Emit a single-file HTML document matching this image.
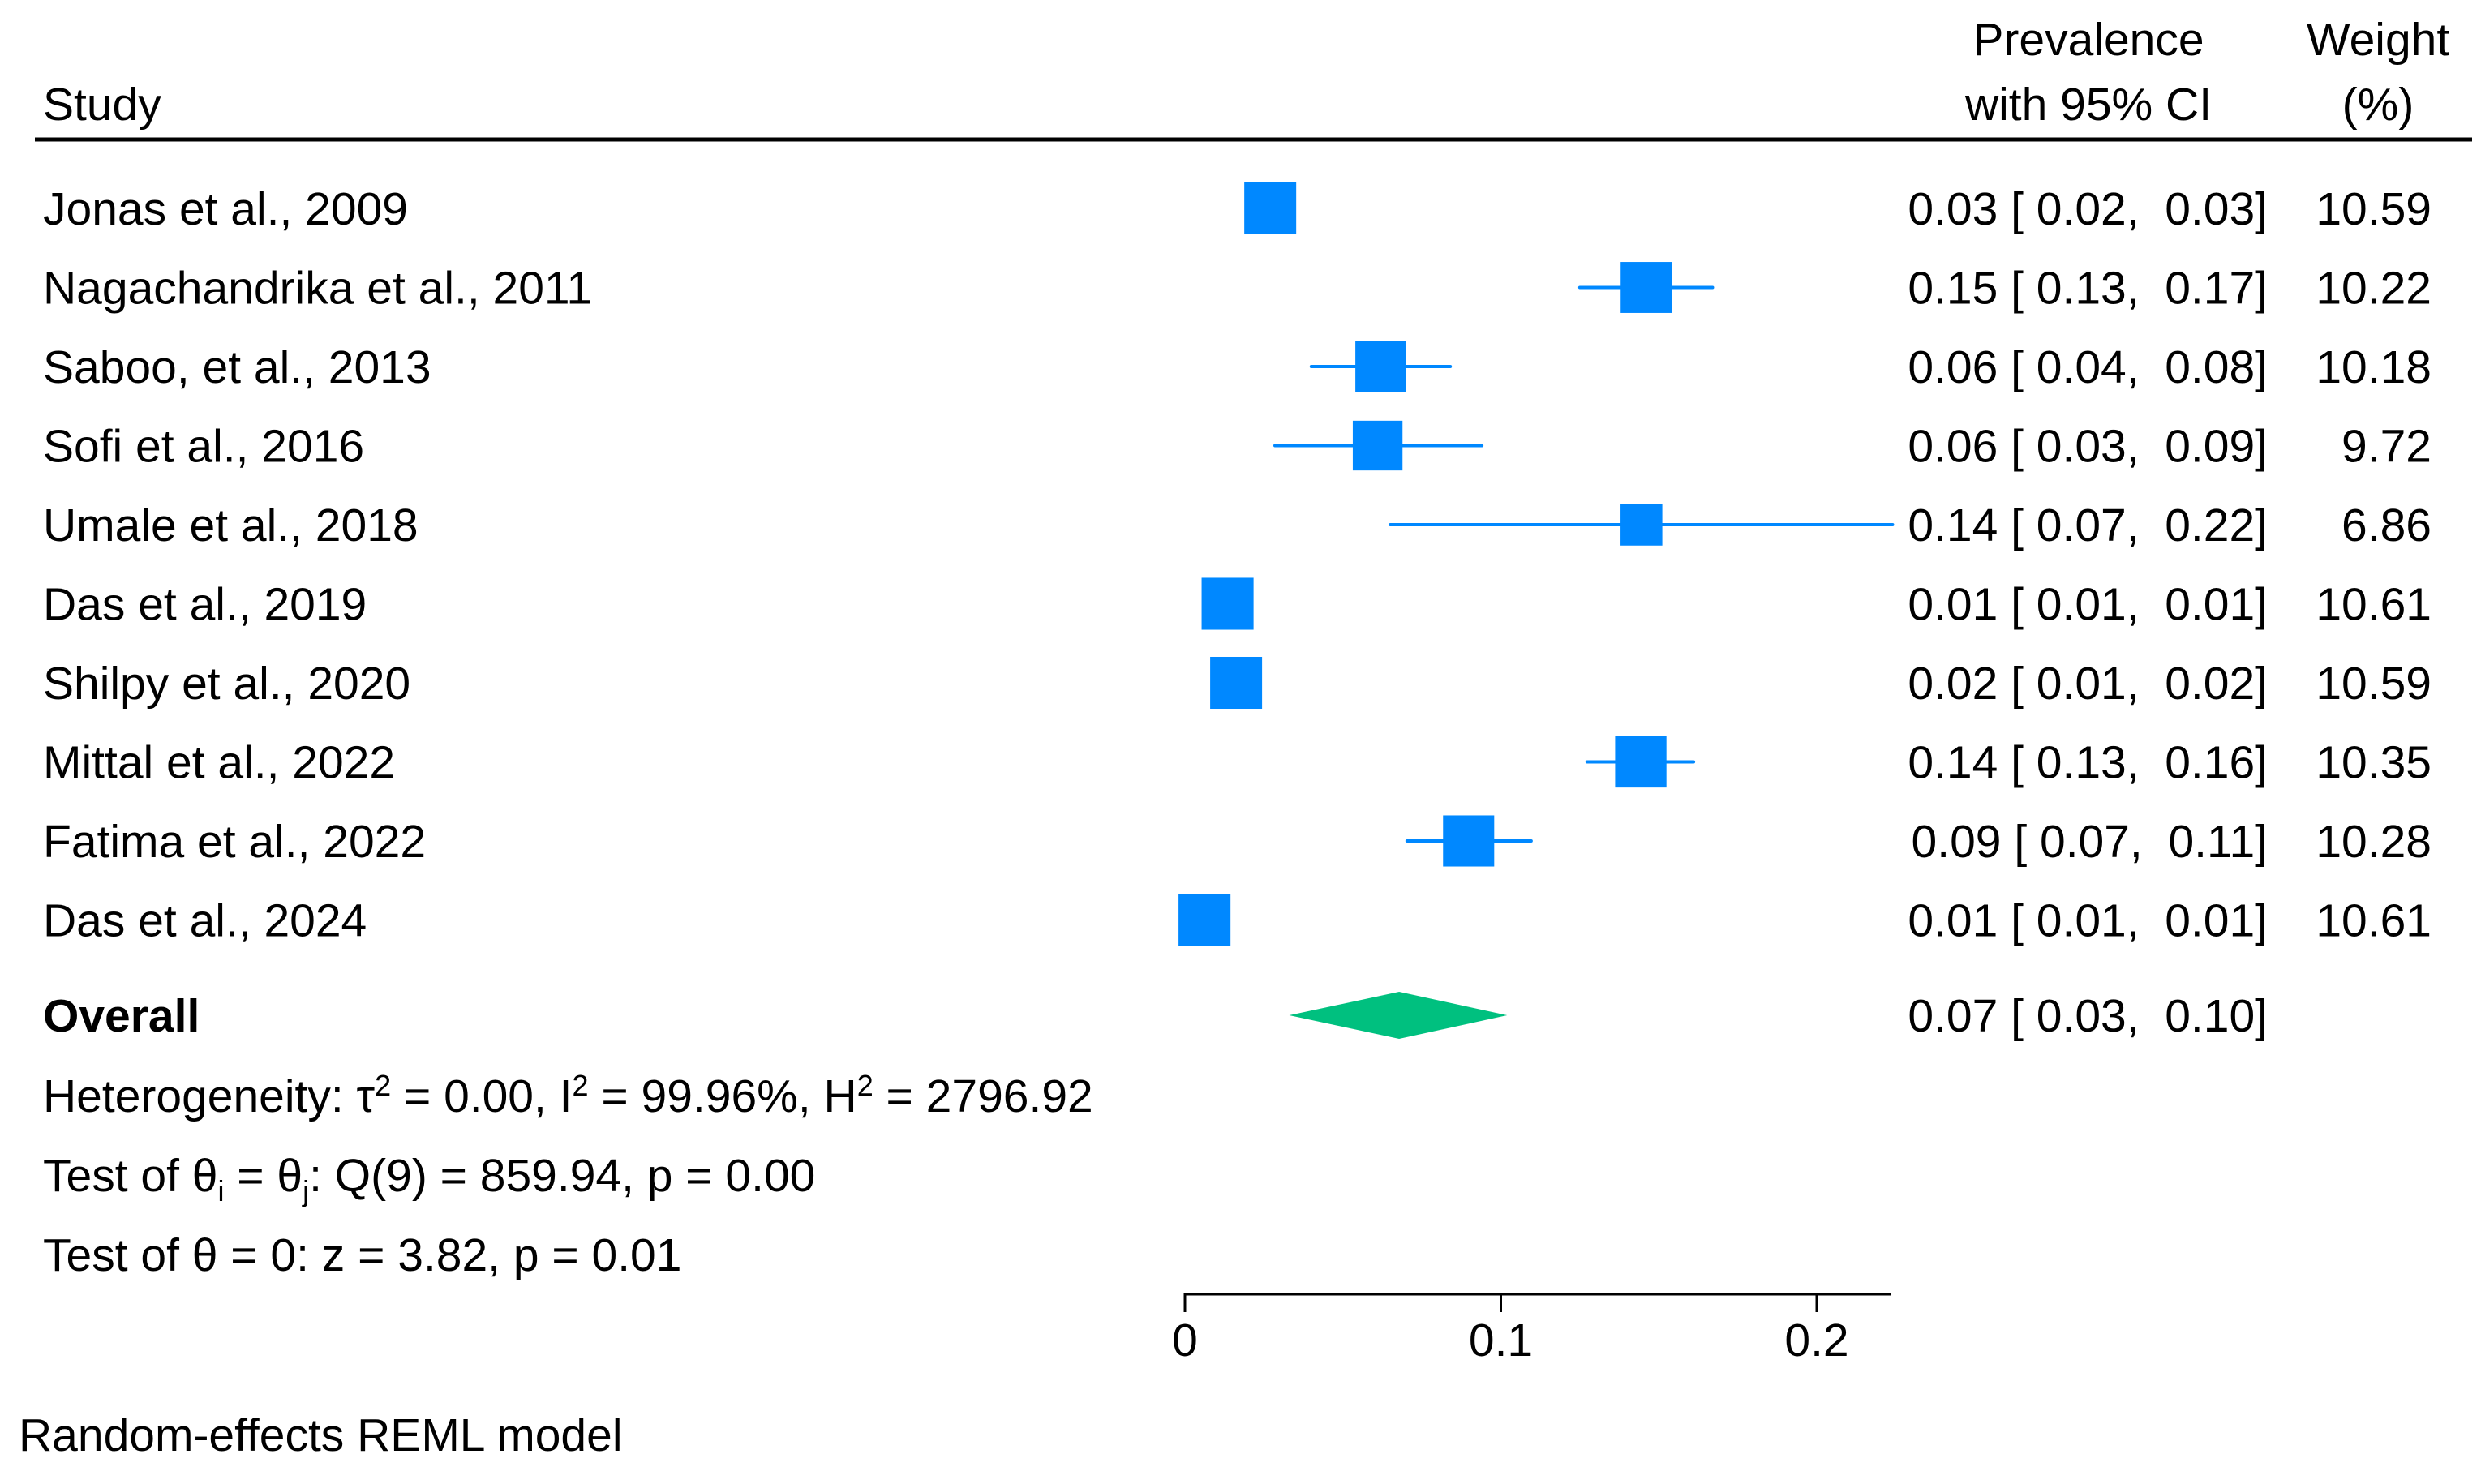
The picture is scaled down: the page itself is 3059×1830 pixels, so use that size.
<!DOCTYPE html>
<html><head><meta charset="utf-8"><style>
html,body{margin:0;padding:0;background:#fff;}
svg{display:block;font-family:"Liberation Sans",Arial,sans-serif;}
text{fill:#000;}
</style></head><body>
<svg id="chart" width="3059" height="1830" viewBox="0 0 3059 1830" xmlns="http://www.w3.org/2000/svg">
<g font-size="57">
<text x="53" y="148">Study</text>
<text x="2575" y="68" text-anchor="middle">Prevalence</text>
<text x="2575" y="148" text-anchor="middle">with 95% CI</text>
<text x="2932" y="68" text-anchor="middle">Weight</text>
<text x="2932" y="148" text-anchor="middle">(%)</text>
</g>
<line x1="43" y1="172" x2="3048" y2="172" stroke="#000" stroke-width="5"/>
<g id="rows" font-size="57"></g>
<g id="marks"></g>
<g font-size="57">
<text x="53" y="1272" font-weight="bold">Overall</text>
<text x="53" y="1371">Heterogeneity: τ<tspan font-size="36" dy="-20">2</tspan><tspan dy="20"> = 0.00, I</tspan><tspan font-size="36" dy="-20">2</tspan><tspan dy="20"> = 99.96%, H</tspan><tspan font-size="36" dy="-20">2</tspan><tspan dy="20"> = 2796.92</tspan></text>
<text x="53" y="1469">Test of θ<tspan font-size="36" dy="12">i</tspan><tspan dy="-12"> = θ</tspan><tspan font-size="36" dy="12">j</tspan><tspan dy="-12">: Q(9) = 859.94, p = 0.00</tspan></text>
<text x="53" y="1567">Test of θ = 0: z = 3.82, p = 0.01</text>
<text x="23" y="1789">Random-effects REML model</text>
</g>
<g id="axis"></g>
</svg>
<script>
const studies = ["Jonas et al., 2009","Nagachandrika et al., 2011","Saboo, et al., 2013","Sofi et al., 2016","Umale et al., 2018","Das et al., 2019","Shilpy et al., 2020","Mittal et al., 2022","Fatima et al., 2022","Das et al., 2024"];
const est = [0.027,0.146,0.062,0.061,0.1445,0.0135,0.0162,0.1443,0.0898,0.0062];
const lo = [0.020,0.125,0.040,0.0285,0.065,0.010,0.012,0.1273,0.0703,0.005];
const hi = [0.030,0.167,0.084,0.094,0.224,0.016,0.020,0.161,0.1096,0.008];
const ciText = ["0.03 [ 0.02,  0.03]","0.15 [ 0.13,  0.17]","0.06 [ 0.04,  0.08]","0.06 [ 0.03,  0.09]","0.14 [ 0.07,  0.22]","0.01 [ 0.01,  0.01]","0.02 [ 0.01,  0.02]","0.14 [ 0.13,  0.16]","0.09 [ 0.07,  0.11]","0.01 [ 0.01,  0.01]"];
const weights = [10.59,10.22,10.18,9.72,6.86,10.61,10.59,10.35,10.28,10.61];
const overall = [0.033,0.0678,0.102];
const overallText = "0.07 [ 0.03,  0.10]";
const ticks = [0,0.1,0.2];
const tickLabels = ["0","0.1","0.2"];

const NS="http://www.w3.org/2000/svg";
const X = v => 1461 + v*3895;
const Y = i => 257 + i*97.5;
const rows=document.getElementById('rows'), marks=document.getElementById('marks'), axis=document.getElementById('axis');
function mk(tag, attrs, parent, txt){const e=document.createElementNS(NS,tag);for(const k in attrs)e.setAttribute(k,attrs[k]);if(txt!==undefined)e.textContent=txt;parent.appendChild(e);return e;}
studies.forEach((s,i)=>{
  const y=Y(i);
  let t=mk('text',{x:53,y:y+20},rows,s);
  
  
  t=mk('text',{x:2796,y:y+20,'text-anchor':'end','xml:space':'preserve'},rows,ciText[i]);
  t.style.whiteSpace='pre';
  
  
  t=mk('text',{x:2998,y:y+20,'text-anchor':'end'},rows,weights[i].toFixed(2));
  
  
  const l=mk('line',{x1:X(lo[i]),x2:X(hi[i]),y1:y,y2:y,stroke:'#0088ff','stroke-width':4,'stroke-linecap':'round'},marks);
  
  
  const sz=19.67*Math.sqrt(weights[i]);
  const r=mk('rect',{x:X(est[i])-sz/2,y:y-sz/2,width:sz,height:sz,fill:'#0088ff'},marks);
  
  
});
const oy=1252;
const d=mk('polygon',{points:`${X(overall[0])},${oy} ${X(overall[1])},${oy-29} ${X(overall[2])},${oy} ${X(overall[1])},${oy+29}`,fill:'#00c07f'},marks);


const ot=mk('text',{x:2796,y:oy+20,'text-anchor':'end','font-size':57},rows,overallText);
ot.style.whiteSpace='pre';


const al=mk('line',{x1:X(0)-1.5,x2:2332,y1:1596,y2:1596,stroke:'#000','stroke-width':3},axis);


ticks.forEach((v,i)=>{
  const tk=mk('line',{x1:X(v),x2:X(v),y1:1596,y2:1618,stroke:'#000','stroke-width':3},axis);
  
  
  const tl=mk('text',{x:X(v),y:1672,'text-anchor':'middle','font-size':57},axis,tickLabels[i]);
  
  
});
</script>
</body></html>
